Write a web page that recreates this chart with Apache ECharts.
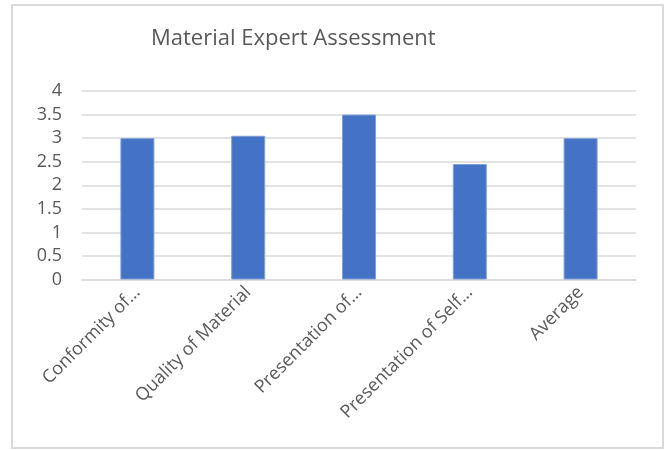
<!DOCTYPE html>
<html>
<head>
<meta charset="utf-8">
<script src="https://cdn.jsdelivr.net/npm/echarts@6/dist/echarts.min.js"></script>
<style>
  html, body { margin: 0; padding: 0; background: #ffffff; }
  #chart { width: 668px; height: 450px; }
</style>
</head>
<body>
<div id="chart"></div>
<script>
// Assessment criteria and their mean scores
const categories = [
  'Conformity of\u2026',
  'Quality of Material',
  'Presentation of\u2026',
  'Presentation of Self\u2026',
  'Average'
];
const scores = [3.0, 3.05, 3.5, 2.45, 3.0];
const yTicks = [0, 0.5, 1, 1.5, 2, 2.5, 3, 3.5, 4];

const textColor = '#595959';
const lineColor = '#D9D9D9';
const font = '"Open Sans", "Noto Sans", sans-serif';

const chart = echarts.init(document.getElementById('chart'), null, { renderer: 'canvas' });

chart.setOption({
  backgroundColor: '#ffffff',
  animation: false,
  title: {
    text: 'Material Expert Assessment',
    left: 146,
    top: 23,
    textStyle: {
      color: textColor,
      fontFamily: font,
      fontSize: 22,
      fontWeight: 'normal'
    }
  },
  graphic: [{
    type: 'rect',
    shape: { x: 12, y: 5, width: 651, height: 443 },
    style: { fill: 'none', stroke: lineColor, lineWidth: 2 },
    silent: true,
    z: -1
  }],
  grid: {
    left: 82,
    right: 32,
    top: 91,
    bottom: 170.5,
    containLabel: false
  },
  xAxis: {
    type: 'category',
    data: categories,
    axisLine: { show: true, lineStyle: { color: lineColor, width: 1.5 } },
    axisTick: { show: false },
    axisLabel: {
      interval: 0,
      rotate: 45,
      margin: 10,
      color: textColor,
      fontFamily: font,
      fontSize: 18
    }
  },
  yAxis: {
    type: 'value',
    min: yTicks[0],
    max: yTicks[yTicks.length - 1],
    interval: 0.5,
    axisLine: { show: false },
    axisTick: { show: false },
    splitLine: { show: true, lineStyle: { color: lineColor, width: 1.5 } },
    axisLabel: {
      margin: 20,
      color: textColor,
      fontFamily: font,
      fontSize: 18,
      formatter: v => String(v)
    }
  },
  series: [{
    type: 'bar',
    data: scores,
    barWidth: 34,
    itemStyle: {
      color: '#4472C4',
      borderColor: '#7F9FD9',
      borderWidth: 1
    }
  }]
});
</script>
</body>
</html>
